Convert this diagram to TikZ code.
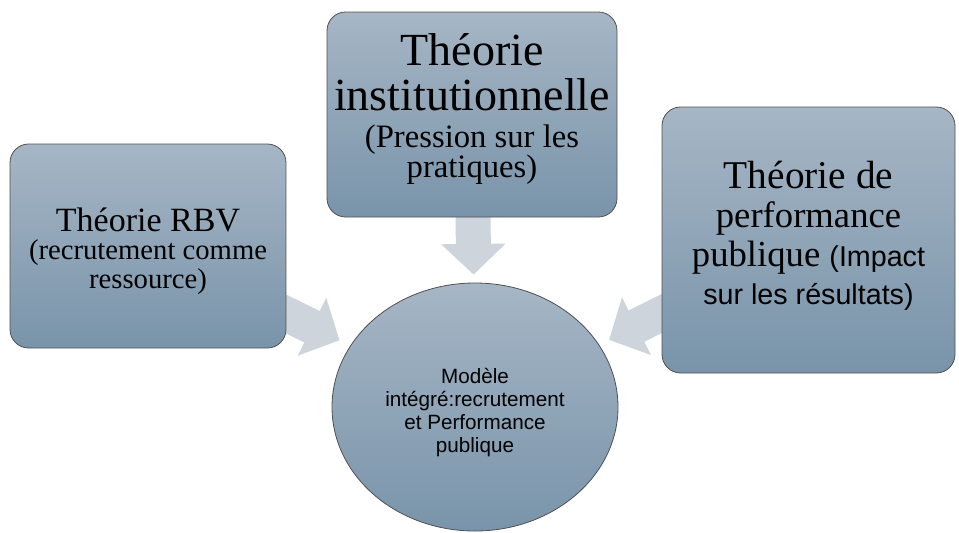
\documentclass[tikz,border=0pt]{standalone}
\usepackage{fontspec}
\setmainfont{Liberation Serif}
\setsansfont{Liberation Sans}
\usetikzlibrary{arrows.meta,shapes.geometric,backgrounds}
\definecolor{boxtop}{RGB}{166,182,197}
\definecolor{boxbottom}{RGB}{121,148,170}
\definecolor{boxline}{RGB}{80,80,80}
\definecolor{flowgray}{RGB}{205,212,220}
\newcommand{\fsz}[2]{\fontsize{#1}{#2}\selectfont}

\begin{document}
\begin{tikzpicture}[x=0.75pt, y=-0.75pt,
    theory/.style={draw=boxline, line width=0.6pt, rounded corners=14pt,
      top color=boxtop, bottom color=boxbottom, align=center, inner sep=0pt},
    hub/.style={ellipse, draw=boxline, line width=0.6pt,
      top color=boxtop, bottom color=boxbottom, align=center, inner sep=0pt},
    flow/.style={draw=flowgray, line width=26.25pt,
      -{Triangle[length=23pt, width=47pt]}}]
  \useasboundingbox (0,0) rectangle (959,532);

  \node[theory, minimum width=207pt, minimum height=153pt,
    font=\fsz{21.5}{21.5}] (rbv) at (148,246)
    {\rule{0pt}{25.5pt}\fsz{25.5}{21}Théorie RBV\\ (recrutement comme\\ ressource)};
  \node[theory, minimum width=217.5pt, minimum height=153.75pt,
    font=\fsz{34.5}{33}] (inst) at (472,114.5)
    {Théorie\\[0.75pt] institutionnelle\\[-5.25pt] \fsz{24.5}{27}(Pression sur les\\[-10.5pt]
     \fsz{24.5}{22.5}pratiques)\rule[-14pt]{0pt}{1pt}};
  \node[theory, minimum width=219.75pt, minimum height=199.5pt,
    font=\fsz{27.5}{29}] (perf) at (808.5,240)
    {\fsz{29.5}{29}Théorie de\\ performance\\ publique {\sffamily\fsz{21.5}{21.5}(Impact}\\
     \sffamily\fsz{21.5}{28.5}sur les résultats)\rule[-10.5pt]{0pt}{1pt}};
  \node[hub, minimum width=214.5pt, minimum height=186pt,
    font=\sffamily\fsz{15.5}{17.25}] (model) at (475,407)
    {\rule{0pt}{19pt}Modèle\\ intégré:recrutement\\ et Performance\\ publique};

  \begin{scope}[on background layer]
    \draw[flow, shorten >=6pt] (inst.center) -- (model);
    \draw[flow, shorten >=9pt] (rbv.center) -- (model);
    \draw[flow, shorten >=8.25pt] (perf.center) -- (model);
  \end{scope}
\end{tikzpicture}
\end{document}
